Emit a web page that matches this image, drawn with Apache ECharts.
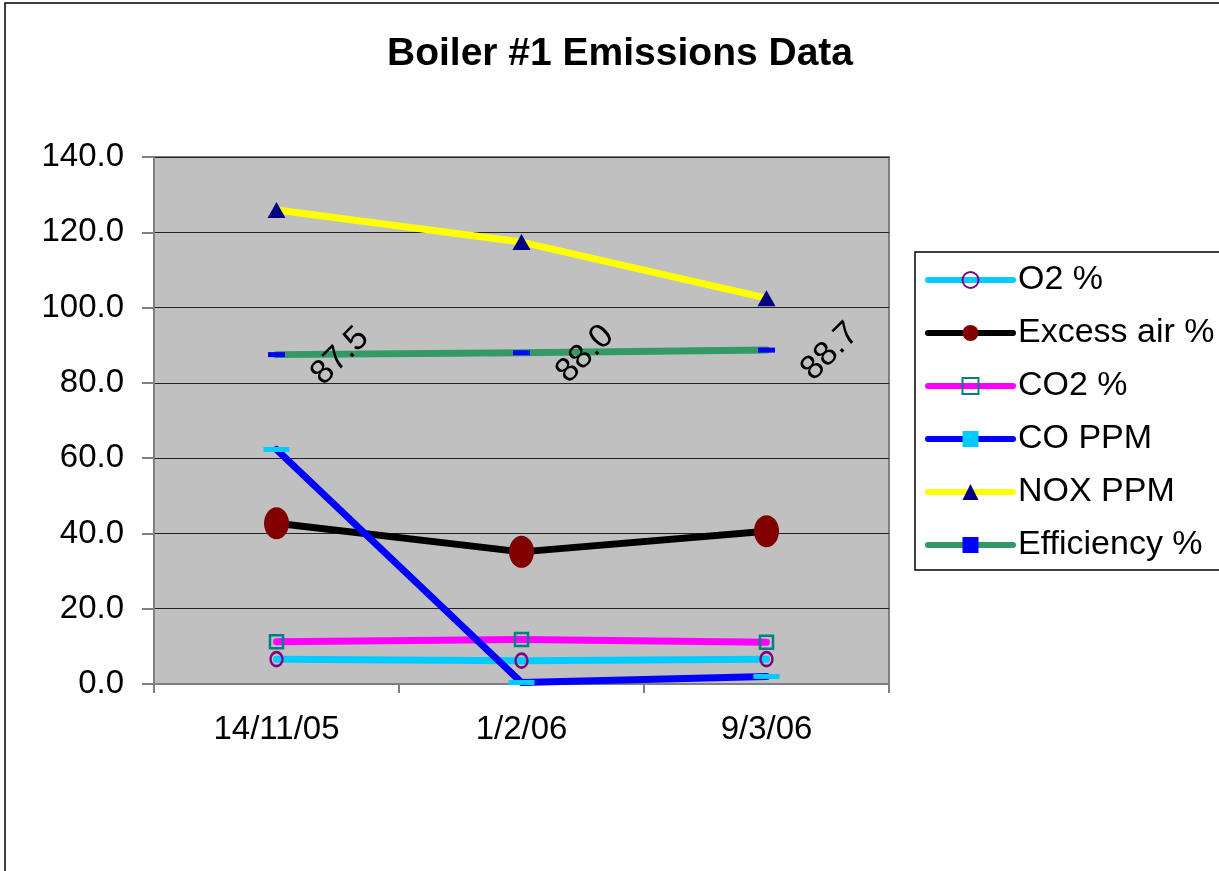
<!DOCTYPE html>
<html>
<head>
<meta charset="utf-8">
<script src="https://cdn.jsdelivr.net/npm/echarts@6/dist/echarts.min.js"></script>
<style>html,body{margin:0;padding:0;background:#fff;}#c{width:1219px;height:871px;}</style>
</head>
<body>
<div id="c"></div>
<script>
var categories = ['14/11/05', '1/2/06', '9/3/06'];
var o2 = [6.6, 6.2, 6.6];
var excessAir = [42.7, 35.1, 40.6];
var co2 = [11.2, 11.8, 11.1];
var coPpm = [62.3, 0.4, 2.0];
var noxPpm = [125.9, 117.4, 102.5];
var efficiency = [87.5, 88.0, 88.7];

var FONT = 'Liberation Sans, Arial, sans-serif';
var chart = echarts.init(document.getElementById('c'));

function mk(name, data, lineColor, symbol, size, itemStyle, extra) {
  var s = {
    name: name, type: 'line', data: data,
    symbol: symbol, symbolSize: size,
    lineStyle: { color: lineColor, width: 7, cap: 'round', join: 'round' },
    itemStyle: itemStyle,
    emphasis: { disabled: true },
    animation: false
  };
  if (extra) for (var k in extra) s[k] = extra[k];
  return s;
}

chart.setOption({
  backgroundColor: '#ffffff',
  animation: false,
  title: {
    text: 'Boiler #1 Emissions Data',
    left: 615, top: 30, textAlign: 'center',
    textStyle: { fontFamily: FONT, fontSize: 39, fontWeight: 'bold', color: '#000' }
  },
  graphic: [
    { type: 'rect', shape: { x: 5, y: 3, width: 1300, height: 1000 }, style: { fill: 'none', stroke: '#000', lineWidth: 1.5 }, z: -10 },
    { type: 'rect', shape: { x: 915, y: 252, width: 400, height: 318 }, style: { fill: '#fff', stroke: '#000', lineWidth: 1.5 }, z: 0 }
  ],
  legend: {
    orient: 'vertical', left: 925, top: 263,
    itemWidth: 85, itemHeight: 20, itemGap: 19, itemTextGap: 4,
    padding: 0,
    lineStyle: { width: 6, cap: 'round' },
    textStyle: { fontFamily: FONT, fontSize: 34, color: '#000' },
    z: 5
  },
  grid: { left: 154, top: 157, right: 330, bottom: 187, show: true, backgroundColor: '#c0c0c0', borderColor: '#808080', borderWidth: 2 },
  xAxis: {
    type: 'category', data: categories, boundaryGap: true,
    axisLine: { lineStyle: { color: '#808080', width: 2 } },
    axisTick: { show: true, length: 9, lineStyle: { color: '#808080', width: 2 } },
    axisLabel: { fontFamily: FONT, fontSize: 33, color: '#000', margin: 29 },
    splitLine: { show: false }
  },
  yAxis: {
    type: 'value', min: 0, max: 140, interval: 20,
    axisLine: { show: true, lineStyle: { color: '#808080', width: 2 } },
    axisTick: { show: true, length: 12, lineStyle: { color: '#808080', width: 2 } },
    axisLabel: { fontFamily: FONT, fontSize: 33, color: '#000', margin: 30, formatter: function (v) { return v.toFixed(1); } },
    splitLine: { show: true, lineStyle: { color: '#222', width: 1.2 } }
  },
  series: [
    mk('O2 %', o2, '#00ccff', 'circle', [12, 14], { color: 'rgba(0,0,0,0)', borderColor: '#800080', borderWidth: 2.5 }),
    mk('Excess air %', excessAir, '#000000', 'circle', [25, 32], { color: '#800000' }),
    mk('CO2 %', co2, '#ff00ff', 'rect', [13, 13], { color: 'rgba(0,0,0,0)', borderColor: '#008080', borderWidth: 2.5 }),
    mk('CO PPM', coPpm, '#0000ff', 'rect', [26, 5], { color: '#00ccff' }),
    mk('NOX PPM', noxPpm, '#ffff00', 'triangle', [18, 16], { color: '#000080' }),
    mk('Efficiency %', efficiency, '#339966', 'rect', [17, 5], { color: '#0000ff' }, {
      label: {
        show: true, position: [72, 4], align: 'center', verticalAlign: 'middle', rotate: 45,
        fontFamily: FONT, fontSize: 34, color: '#000',
        formatter: function (p) { return p.value.toFixed(1); }
      }
    })
  ]
});
</script>
</body>
</html>
